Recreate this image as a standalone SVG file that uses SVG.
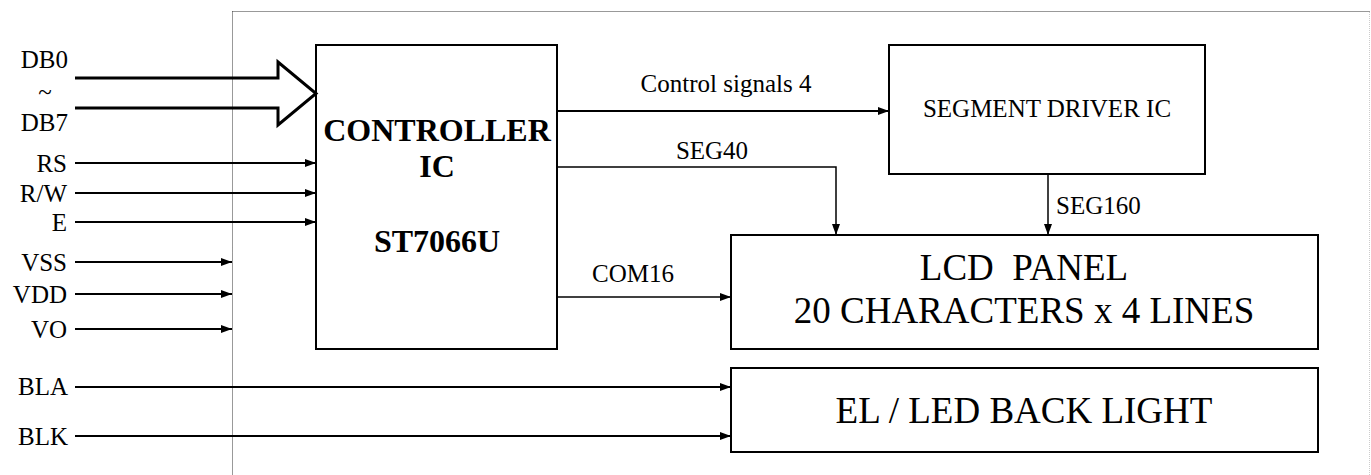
<svg xmlns="http://www.w3.org/2000/svg" width="1371" height="475" viewBox="0 0 1371 475">
<style>
  text { fill: #000; }
  .lbl { font-size: 25px; text-anchor: end; }
  .sig { font-size: 25px; }
  .big { font-size: 37px; text-anchor: middle; }
  .bold { font-size: 32px; font-weight: bold; text-anchor: middle; }
  .box { fill: #fff; stroke: #000; stroke-width: 2; }
  .w2 { stroke: #000; stroke-width: 2; fill: none; }
  .w15 { stroke: #000; stroke-width: 1.5; fill: none; }
  .w3 { stroke: #000; stroke-width: 3; fill: none; }
  .frame { stroke: #333; stroke-width: 1; stroke-dasharray: 1 1; fill: none; }
  .frame2 { stroke: #ccc; stroke-width: 1; stroke-dasharray: 1 1; fill: none; }
</style>
<defs>
  <marker id="ah" markerUnits="userSpaceOnUse" markerWidth="12" markerHeight="9" refX="11" refY="4" orient="auto">
    <path d="M0,0 L11,4 L0,8 z" fill="#000"/>
  </marker>
</defs>
<g id="frame">
  <path class="frame" d="M232.5,11.5 H1370 M232.5,11.5 V475"/>
  <path class="frame2" d="M1369.5,12 V475"/>
</g>
<g font-family="Liberation Serif, DejaVu Serif, serif">
<g id="controller">
  <rect class="box" x="316" y="45" width="241" height="304"/>
  <text class="bold" x="437" y="141">CONTROLLER</text>
  <text class="bold" x="437" y="177">IC</text>
  <text class="bold" x="437" y="252">ST7066U</text>
</g>
<g id="segment-driver">
  <rect class="box" x="889" y="45" width="316" height="129"/>
  <text class="sig" x="1047" y="117" text-anchor="middle">SEGMENT DRIVER IC</text>
</g>
<g id="lcd-panel">
  <rect class="box" x="731" y="235" width="587" height="114"/>
  <text class="big" x="1024" y="280" xml:space="preserve">LCD  PANEL</text>
  <text class="big" x="1024" y="323">20 CHARACTERS x 4 LINES</text>
</g>
<g id="backlight">
  <rect class="box" x="731" y="368" width="587" height="84"/>
  <text class="big" x="1024" y="423">EL / LED BACK LIGHT</text>
</g>
<g id="labels">
  <text class="lbl" x="68" y="68">DB0</text>
  <text class="sig" x="45" y="100" text-anchor="middle">~</text>
  <text class="lbl" x="68" y="131">DB7</text>
  <text class="lbl" x="67" y="172">RS</text>
  <text class="lbl" x="67" y="202">R/W</text>
  <text class="lbl" x="67" y="231">E</text>
  <text class="lbl" x="67" y="271">VSS</text>
  <text class="lbl" x="67" y="303">VDD</text>
  <text class="lbl" x="67" y="338">VO</text>
  <text class="lbl" x="68" y="395">BLA</text>
  <text class="lbl" x="68" y="445">BLK</text>
  <text class="sig" x="726" y="92" text-anchor="middle">Control signals 4</text>
  <text class="sig" x="712" y="159" text-anchor="middle">SEG40</text>
  <text class="sig" x="633" y="282" text-anchor="middle">COM16</text>
  <text class="sig" x="1056" y="214">SEG160</text>
</g>
</g>
<g id="connectors">
  <path class="w3" d="M75,78 H278 V62 L316,93.5 L278,125 V108 H75" stroke-linejoin="miter"/>
  <path class="w2" d="M75,163 H316" marker-end="url(#ah)"/>
  <path class="w2" d="M75,193 H316" marker-end="url(#ah)"/>
  <path class="w2" d="M75,222 H316" marker-end="url(#ah)"/>
  <path class="w2" d="M75,262 H232" marker-end="url(#ah)"/>
  <path class="w2" d="M75,294 H232" marker-end="url(#ah)"/>
  <path class="w2" d="M75,329 H232" marker-end="url(#ah)"/>
  <path class="w2" d="M75,387 H731" marker-end="url(#ah)"/>
  <path class="w2" d="M75,436 H731" marker-end="url(#ah)"/>
  <path class="w2" d="M557,111 H889" marker-end="url(#ah)"/>
  <path class="w15" d="M557,167 H836 V235" marker-end="url(#ah)"/>
  <path class="w15" d="M557,297 H731" marker-end="url(#ah)"/>
  <path class="w15" d="M1048,174 V235" marker-end="url(#ah)"/>
</g>
</svg>
